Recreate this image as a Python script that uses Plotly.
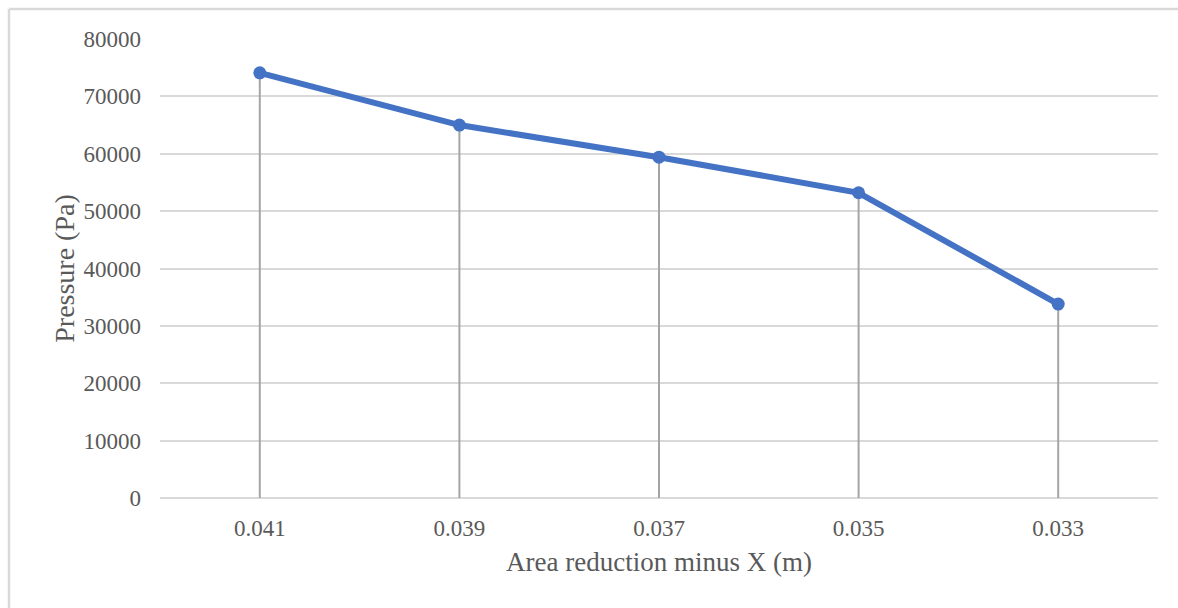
import plotly.graph_objects as go

# Cross-section position and measured pressure
positions = ["0.041", "0.039", "0.037", "0.035", "0.033"]
pressure = [74100, 65000, 59400, 53200, 33800]

y_ticks = [0, 10000, 20000, 30000, 40000, 50000, 60000, 70000, 80000]

W, H = 1178, 608
L, R, T, B = 160, 20, 39, 110
pw, ph = W - L - R, H - T - B

fig = go.Figure()

# Vertical drop lines from each point down to the axis
drop_x, drop_y = [], []
for p, v in zip(positions, pressure):
    drop_x += [p, p, None]
    drop_y += [0, v, None]
fig.add_trace(go.Scatter(
    x=drop_x, y=drop_y, mode="lines",
    line=dict(color="#a5a5a5", width=2),
    hoverinfo="skip", showlegend=False,
))

fig.add_trace(go.Scatter(
    x=positions, y=pressure, mode="lines+markers",
    line=dict(color="#4472c4", width=6),
    marker=dict(color="#4472c4", size=13),
    showlegend=False,
))

font_family = "Liberation Serif, Times New Roman, serif"

fig.update_layout(
    width=W, height=H,
    margin=dict(l=L, r=R, t=T, b=B),
    paper_bgcolor="white", plot_bgcolor="white",
    font=dict(family=font_family, color="#595959", size=23),
    xaxis=dict(
        type="category", range=[-0.5, len(positions) - 0.5],
        showgrid=False, showline=False, zeroline=False,
        tickfont=dict(size=23, color="#595959"),
        ticklabelstandoff=14,
        title=dict(text="Area reduction minus X (m)",
                   font=dict(size=27, color="#595959"), standoff=12),
    ),
    yaxis=dict(
        range=[0, 80000], tickvals=y_ticks,
        ticktext=[str(v) for v in y_ticks],
        showgrid=True, gridcolor="#d9d9d9", gridwidth=2,
        zeroline=True, zerolinecolor="#d9d9d9", zerolinewidth=2,
        showline=False,
        tickfont=dict(size=23, color="#595959"),
        ticklabelstandoff=18,
        title=dict(text="Pressure (Pa)",
                   font=dict(size=28, color="#595959"), standoff=0),
    ),
)

# Chart frame (top and left edges inside the page)
fx = (9 - L) / pw
fy = (H - B - 9) / ph
fig.add_shape(type="line", xref="paper", yref="paper",
              x0=fx, x1=(W - L) / pw + 0.01, y0=fy, y1=fy,
              line=dict(color="#d9d9d9", width=2.5), layer="below")
fig.add_shape(type="line", xref="paper", yref="paper",
              x0=fx, x1=fx, y0=fy, y1=-(B + 5) / ph,
              line=dict(color="#d9d9d9", width=2.5), layer="below")

fig.write_html("out.html")
